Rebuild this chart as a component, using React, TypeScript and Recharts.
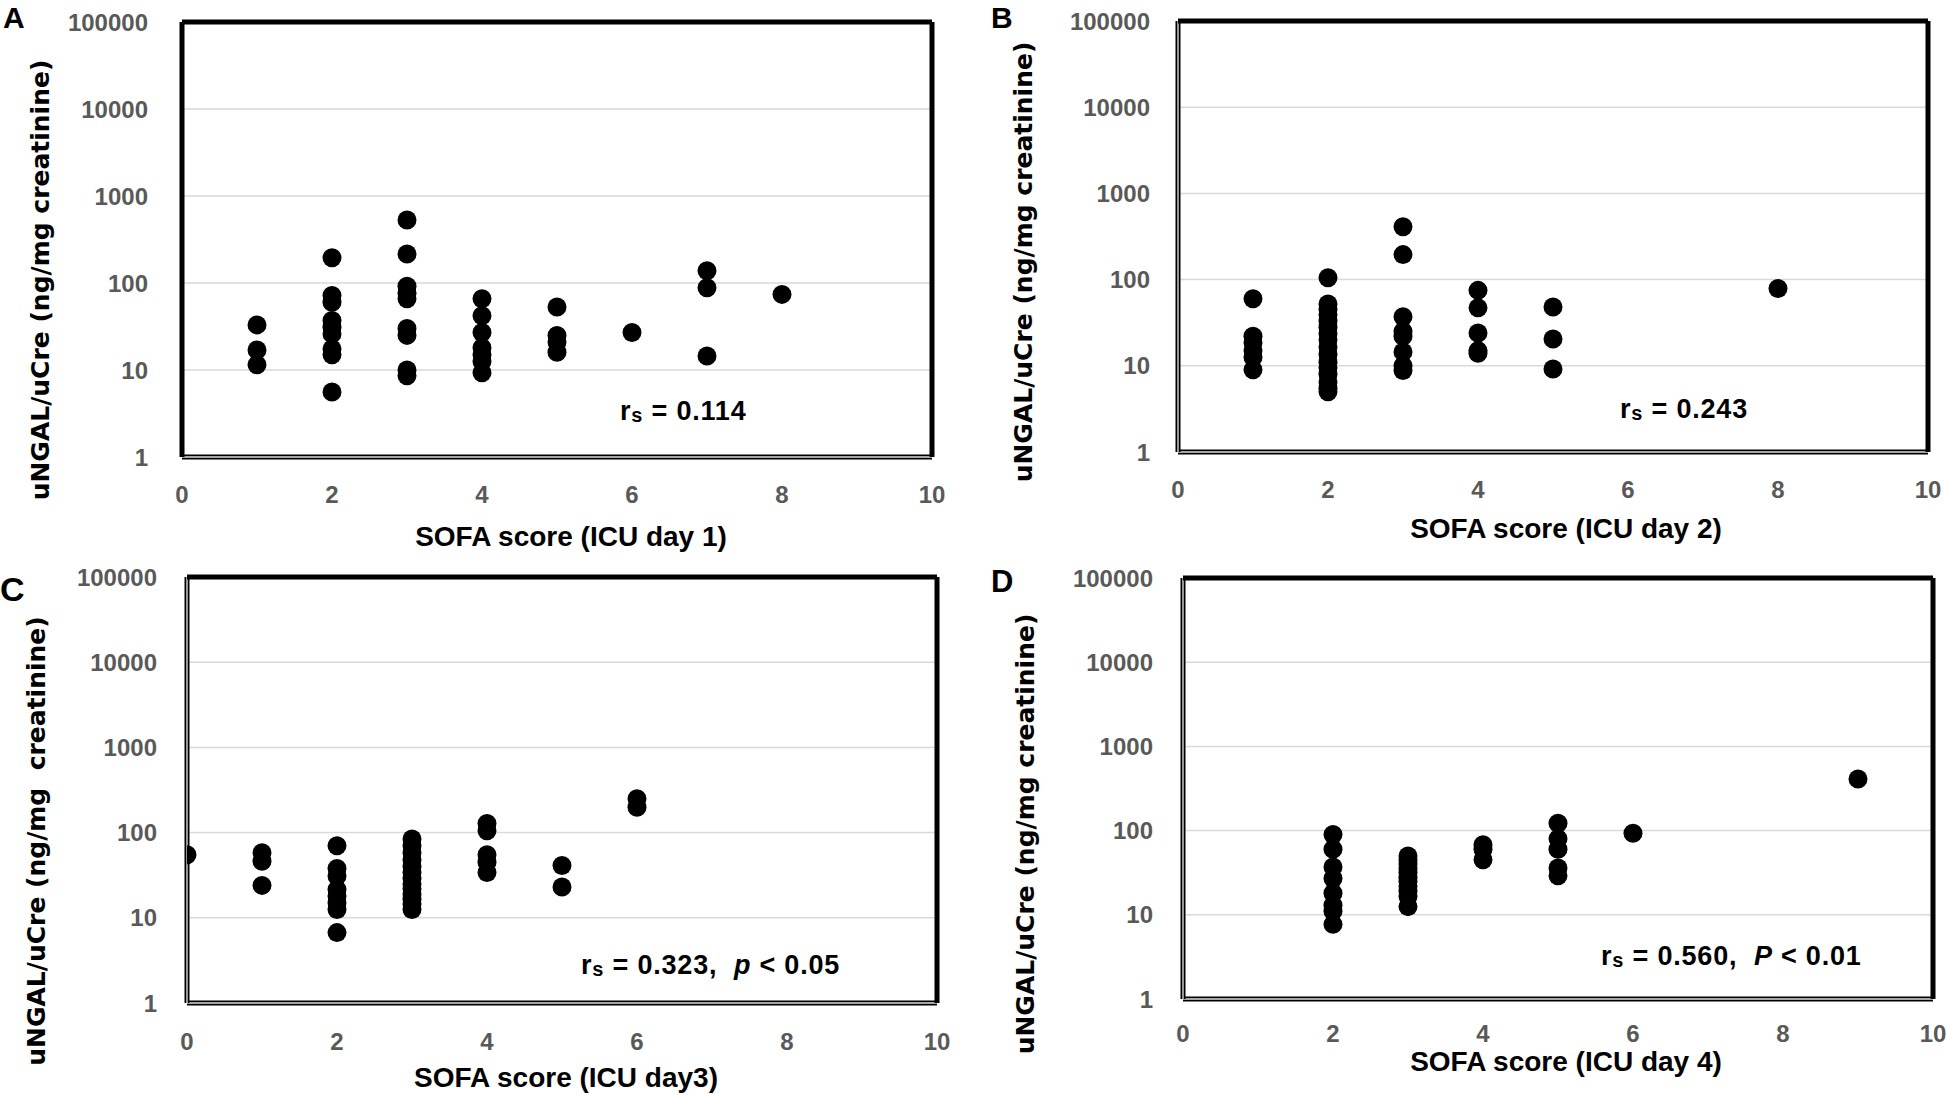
import React from 'react';
import { ScatterChart, Scatter, XAxis, YAxis, CartesianGrid, ReferenceLine, Label } from 'recharts';

// ---------- data ----------
const sofaTicks = [0, 2, 4, 6, 8, 10];
const ngalTicks = [1, 10, 100, 1000, 10000, 100000];

const day1Sofa = [1, 1, 1, 2, 2, 2, 2, 2, 2, 2, 2, 2, 3, 3, 3, 3, 3, 3, 3, 3, 3, 4, 4, 4, 4, 4, 4, 4, 5, 5, 5, 5, 6, 7, 7, 7, 8];
const day1Ngal = [33, 17, 11.5, 195, 72, 60, 37, 31, 26, 17.5, 15, 5.6, 530, 215, 92, 76, 66, 30, 25, 10, 8.6, 66, 42, 27, 18, 15, 12.5, 9.3, 53, 25, 21, 16, 27, 138, 88, 14.5, 74];

const day2Sofa = [1, 1, 1, 1, 1, 1, 2, 2, 2, 2, 2, 2, 2, 2, 2, 2, 2, 2, 2, 2, 2, 2, 3, 3, 3, 3, 3, 3, 3, 3, 4, 4, 4, 4, 4, 5, 5, 5, 8];
const day2Ngal = [60, 22, 18.5, 15, 12.5, 9, 105, 52, 45, 39, 33, 28, 23.5, 20, 16.5, 13.5, 11, 9.5, 8, 6.5, 5.5, 5, 410, 195, 37, 25, 22, 14.5, 10, 8.8, 75, 47, 24, 15, 14, 48, 20.5, 9.2, 79];

const day3Sofa = [0, 1, 1, 1, 2, 2, 2, 2, 2, 2, 2, 2, 3, 3, 3, 3, 3, 3, 3, 3, 3, 3, 3, 3, 3, 4, 4, 4, 4, 4, 5, 5, 6, 6];
const day3Ngal = [55, 58, 46, 24, 70, 38, 31, 21.5, 18, 15, 12.5, 6.7, 84, 70, 58, 48, 40, 34, 29, 25, 22, 19, 16.5, 14.5, 12.5, 128, 105, 55, 45, 34, 41, 23, 250, 198];

const day4Sofa = [2, 2, 2, 2, 2, 2, 2, 2, 3, 3, 3, 3, 3, 3, 3, 3, 3, 3, 3, 4, 4, 4, 5, 5, 5, 5, 5, 6, 9];
const day4Ngal = [90, 60, 37, 27, 18, 13, 11, 7.7, 50, 45, 40, 36, 32, 28, 25, 22, 19, 16.5, 12.5, 68, 60, 45, 122, 80, 60, 36, 29, 93, 410];

const zip = (xs: number[], ys: number[]) => xs.map((x, i) => ({ x, y: ys[i] }));

// ---------- styling ----------
const TICK_FONT = "'Liberation Sans', Arial, sans-serif";
const TITLE_FONT = "'Liberation Sans', Arial, sans-serif";
const YTITLE_FONT = "'DejaVu Sans', Verdana, sans-serif";
const QW = 973;
const QH = 547;
const EXTRA = 50; // extra svg room below each quadrant so titles are not clipped

type PanelCfg = {
  data: { x: number; y: number }[];
  qx: number; qy: number;
  L: number; R: number; T: number; B: number;
  yGap: number; xGap: number;
  yTitle: string; yTitlePos: [number, number];
  xTitle: string; xTitlePos: [number, number];
  letter: string; letterPos: [number, number]; letterSize: number;
  ann: React.ReactNode; annPos: [number, number];
  leftDouble: boolean;
};

const Sub = () => (
  <span style={{ fontSize: '0.74em', verticalAlign: '-0.12em' }}>s</span>
);

const panels: PanelCfg[] = [
  {
    data: zip(day1Sofa, day1Ngal), qx: 0, qy: 0,
    L: 182, R: 932, T: 22, B: 457, yGap: 34, xGap: 29,
    yTitle: 'uNGAL/uCre (ng/mg creatinine)', yTitlePos: [40, 280],
    xTitle: 'SOFA score (ICU day 1)', xTitlePos: [571, 536],
    letter: 'A', letterPos: [3, 7], letterSize: 30,
    ann: <>r<Sub /> = 0.114</>, annPos: [620, 411],
    leftDouble: false,
  },
  {
    data: zip(day2Sofa, day2Ngal), qx: 973, qy: 0,
    L: 1178, R: 1928, T: 21, B: 452, yGap: 28, xGap: 29,
    yTitle: 'uNGAL/uCre (ng/mg creatinine)', yTitlePos: [1023, 262],
    xTitle: 'SOFA score (ICU day 2)', xTitlePos: [1566, 528],
    letter: 'B', letterPos: [991, 7], letterSize: 30,
    ann: <>r<Sub /> = 0.243</>, annPos: [1620, 409],
    leftDouble: true,
  },
  {
    data: zip(day3Sofa, day3Ngal), qx: 0, qy: 547,
    L: 187, R: 937, T: 577, B: 1003, yGap: 30, xGap: 30,
    yTitle: 'uNGAL/uCre (ng/mg\u00a0 creatinine)', yTitlePos: [36, 841],
    xTitle: 'SOFA score (ICU day3)', xTitlePos: [566, 1077],
    letter: 'C', letterPos: [0, 576], letterSize: 34,
    ann: <>r<Sub /> = 0.323,{'\u00a0 '}<i>p</i> &lt; 0.05</>, annPos: [581, 965],
    leftDouble: true,
  },
  {
    data: zip(day4Sofa, day4Ngal), qx: 973, qy: 547,
    L: 1183, R: 1933, T: 578, B: 999, yGap: 30, xGap: 26,
    yTitle: 'uNGAL/uCre (ng/mg creatinine)', yTitlePos: [1025, 834],
    xTitle: 'SOFA score (ICU day 4)', xTitlePos: [1566, 1061],
    letter: 'D', letterPos: [991, 570], letterSize: 31,
    ann: <>r<Sub /> = 0.560,{'\u00a0 '}<i>P</i> &lt; 0.01</>, annPos: [1601, 956],
    leftDouble: true,
  },
];

const Dot = (props: any) => {
  const { cx, cy } = props;
  if (cx == null || cy == null) return null;
  return <circle cx={cx} cy={cy} r={9.5} fill="#000" />;
};

function Panel({ p }: { p: PanelCfg }) {
  const yAxisW = p.L - p.qx;
  const xAxisH = p.qy + QH - p.B;
  const top = p.T - p.qy;
  const right = p.qx + QW - p.R;
  const [ytx, yty] = [p.yTitlePos[0] - p.qx, p.yTitlePos[1] - p.qy];
  const [xtx, xty] = [p.xTitlePos[0] - p.qx, p.xTitlePos[1] - p.qy];
  return (
    <div style={{ position: 'absolute', left: p.qx, top: p.qy, width: QW, height: QH + EXTRA }}>
      <ScatterChart width={QW} height={QH + EXTRA} margin={{ top, right, bottom: EXTRA, left: 0 }}>
        <CartesianGrid vertical={false} stroke="#d9d9d9" strokeWidth={1.5} />
        <XAxis
          type="number" dataKey="x" domain={[0, 10]} ticks={sofaTicks}
          allowDataOverflow axisLine={false} tickLine={false} tickSize={0}
          tickMargin={p.xGap} height={xAxisH} interval={0}
          tick={{ fill: '#595959', fontSize: 24, fontWeight: 700, fontFamily: TICK_FONT }}
        >
          <Label
            content={() => (
              <text x={xtx} y={xty} textAnchor="middle" dominantBaseline="central"
                style={{ fontSize: 28, fontWeight: 700, fontFamily: TITLE_FONT, fill: '#000' }}>
                {p.xTitle}
              </text>
            )}
          />
        </XAxis>
        <YAxis
          type="number" dataKey="y" scale="log" domain={[1, 100000]} ticks={ngalTicks}
          allowDataOverflow axisLine={false} tickLine={false} tickSize={0}
          tickMargin={p.yGap} width={yAxisW} interval={0}
          tick={{ fill: '#595959', fontSize: 24, fontWeight: 700, fontFamily: TICK_FONT }}
        >
          <Label
            content={() => (
              <text x={ytx} y={yty} textAnchor="middle" dominantBaseline="central"
                transform={`rotate(-90, ${ytx}, ${yty})`}
                style={{ fontSize: 25, fontWeight: 700, fontFamily: YTITLE_FONT, fill: '#000', whiteSpace: 'pre' }}>
                {p.yTitle}
              </text>
            )}
          />
        </YAxis>
        <ReferenceLine y={1} stroke="#000" strokeWidth={5} />
        <ReferenceLine y={1} stroke="#a6a6a6" strokeWidth={1.8} />
        <ReferenceLine x={0} stroke="#000" strokeWidth={5} />
        {p.leftDouble && <ReferenceLine x={0} stroke="#a6a6a6" strokeWidth={1.8} />}
        <ReferenceLine y={100000} stroke="#000" strokeWidth={5} />
        <ReferenceLine x={10} stroke="#000" strokeWidth={5} />
        <Scatter data={p.data} isAnimationActive={false} shape={Dot} />
      </ScatterChart>
    </div>
  );
}

export default function App() {
  return (
    <div style={{ position: 'absolute', left: 0, top: 0, width: 1946, height: 1094, background: '#fff', overflow: 'hidden' }}>
      {panels.map((p) => (
        <Panel key={p.letter} p={p} />
      ))}
      {panels.map((p) => (
        <div key={'l' + p.letter}
          style={{
            position: 'absolute', left: p.letterPos[0], top: p.letterPos[1] - p.letterSize * 0.13,
            fontFamily: TITLE_FONT, fontWeight: 700, fontSize: p.letterSize, lineHeight: 1, color: '#000',
          }}>
          {p.letter}
        </div>
      ))}
      {panels.map((p) => (
        <div key={'a' + p.letter}
          style={{
            position: 'absolute', left: p.annPos[0], top: p.annPos[1] - 16,
            fontFamily: TITLE_FONT, fontWeight: 700, fontSize: 27, lineHeight: '32px', height: 32,
            letterSpacing: 0.8, whiteSpace: 'pre', color: '#000',
          }}>
          {p.ann}
        </div>
      ))}
    </div>
  );
}
